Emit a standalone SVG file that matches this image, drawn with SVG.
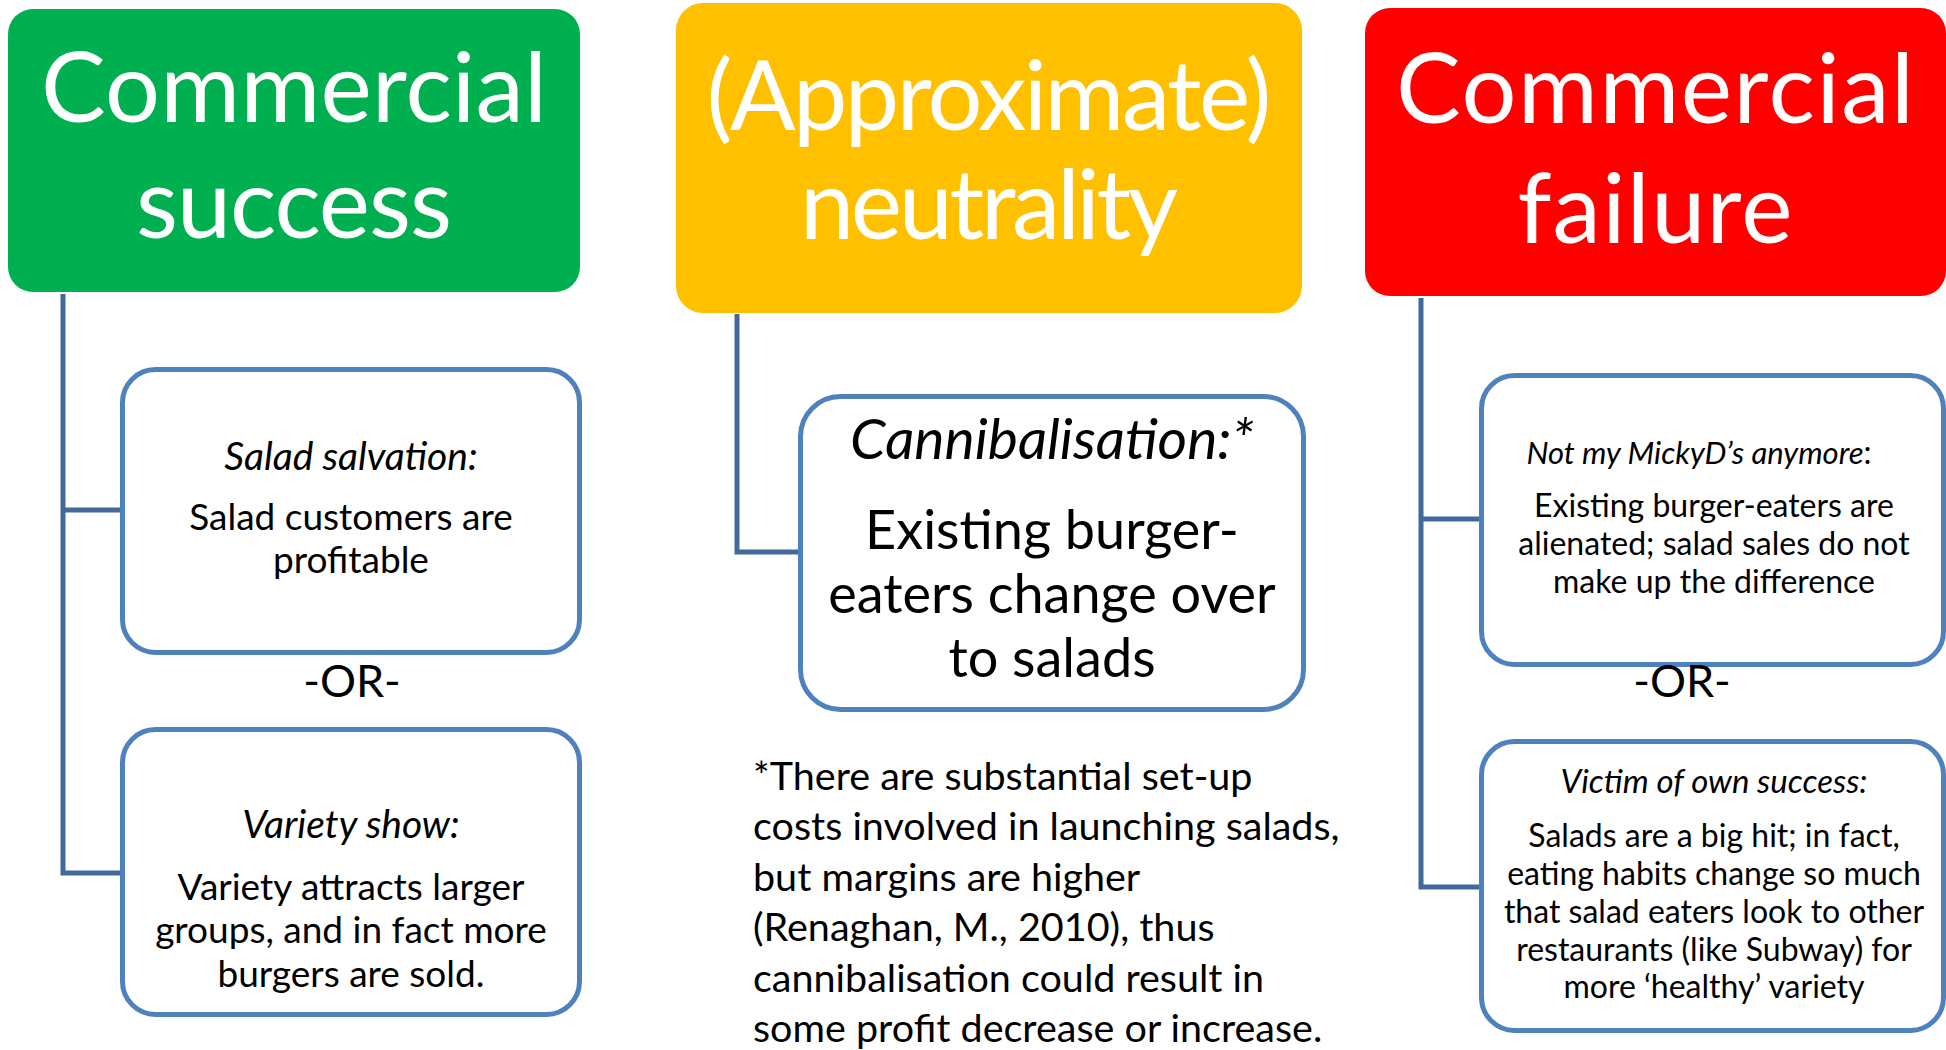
<svg xmlns="http://www.w3.org/2000/svg" width="1946" height="1050" viewBox="0 0 1946 1050">
  <style>
    text { font-family: Lato, "Open Sans", "Liberation Sans", sans-serif; }
    .head { fill: #FFFFFF; font-size: 97px; text-anchor: middle; }
    .box { fill: #FFFFFF; stroke: #4F81BD; stroke-width: 5; }
    .t { fill: #000000; text-anchor: middle; }
    .it { font-style: italic; }
    .s37 { font-size: 37px; }
    .i39 { font-size: 39px; font-style: italic; }
    .s54 { font-size: 54px; }
    .i57 { font-size: 57px; font-style: italic; }
    .or { font-size: 45px; }
    .s32 { font-size: 32px; }
    .foot { fill: #000000; font-size: 39.5px; }
    .conn { fill: none; stroke: #43689A; stroke-width: 5; }
  </style>

  <!-- connectors from each outcome header to its scenario boxes -->
  <g id="connectors">
    <path class="conn" d="M63,294 V873 H122 M63,510 H122"/>
    <path class="conn" d="M737,314 V552 H800"/>
    <path class="conn" d="M1421,298 V887 H1481 M1421,519 H1481"/>
  </g>

  <!-- outcome headers -->
  <g id="success">
    <rect x="8" y="9" width="572" height="283" rx="25" fill="#00B050"/>
    <text class="head" x="294" y="122" textLength="506">Commercial</text>
    <text class="head" x="294" y="238" textLength="316">success</text>
  </g>
  <g id="neutrality">
    <rect x="676" y="3" width="626" height="310" rx="27" fill="#FFC000"/>
    <text class="head" x="989" y="130" textLength="565">(Approximate)</text>
    <text class="head" x="989" y="239" textLength="378">neutrality</text>
  </g>
  <g id="failure">
    <rect x="1365" y="8" width="581" height="288" rx="25" fill="#FF0000"/>
    <text class="head" x="1655" y="123" textLength="518">Commercial</text>
    <text class="head" x="1655" y="243" textLength="275">failure</text>
  </g>

  <!-- success scenarios -->
  <g id="salad-salvation">
    <rect class="box" x="122.5" y="369.5" width="457" height="283" rx="33"/>
    <text class="t i39" x="351" y="470">Salad salvation:</text>
    <text class="t s37" x="351" y="530">Salad customers are</text>
    <text class="t s37" x="351" y="573">profitable</text>
  </g>
  <g id="or-left">
    <text class="t or" x="352" y="697">-OR-</text>
  </g>
  <g id="variety-show">
    <rect class="box" x="122.5" y="729.5" width="457" height="285" rx="33"/>
    <text class="t i39" x="351" y="838">Variety show:</text>
    <text class="t s37" x="351" y="900">Variety attracts larger</text>
    <text class="t s37" x="351" y="943">groups, and in fact more</text>
    <text class="t s37" x="351" y="987">burgers are sold.</text>
  </g>

  <!-- neutrality scenario -->
  <g id="cannibalisation">
    <rect class="box" x="800.5" y="396.5" width="503" height="313" rx="40"/>
    <text class="t i57" x="1052" y="459">Cannibalisation:*</text>
    <text class="t s54" x="1052" y="549">Existing burger-</text>
    <text class="t s54" x="1052" y="613">eaters change over</text>
    <text class="t s54" x="1052" y="677">to salads</text>
  </g>
  <g id="footnote">
    <text class="foot" x="753" y="790">*There are substantial set-up</text>
    <text class="foot" x="753" y="840">costs involved in launching salads,</text>
    <text class="foot" x="753" y="891">but margins are higher</text>
    <text class="foot" x="753" y="941">(Renaghan, M., 2010), thus</text>
    <text class="foot" x="753" y="992">cannibalisation could result in</text>
    <text class="foot" x="753" y="1042">some profit decrease or increase.</text>
  </g>

  <!-- failure scenarios -->
  <g id="not-my-mickyds">
    <rect class="box" x="1481.5" y="375.5" width="462" height="289" rx="33"/>
    <text class="t s32" x="1699" y="464"><tspan class="it" style="font-size:31px">Not my MickyD’s anymore</tspan>:</text>
    <text class="t s32" x="1714" y="517">Existing burger-eaters are</text>
    <text class="t s32" x="1714" y="555">alienated; salad sales do not</text>
    <text class="t s32" x="1714" y="593">make up the difference</text>
  </g>
  <g id="or-right">
    <text class="t or" x="1682" y="697">-OR-</text>
  </g>
  <g id="victim-of-success">
    <rect class="box" x="1481.5" y="741.5" width="462" height="289" rx="33"/>
    <text class="t it" style="font-size:33px" x="1714" y="793">Victim of own success:</text>
    <text class="t s32" x="1714" y="847">Salads are a big hit; in fact,</text>
    <text class="t s32" x="1714" y="885">eating habits change so much</text>
    <text class="t s32" x="1714" y="923">that salad eaters look to other</text>
    <text class="t s32" x="1714" y="961">restaurants (like Subway) for</text>
    <text class="t s32" x="1714" y="998">more ‘healthy’ variety</text>
  </g>
</svg>
